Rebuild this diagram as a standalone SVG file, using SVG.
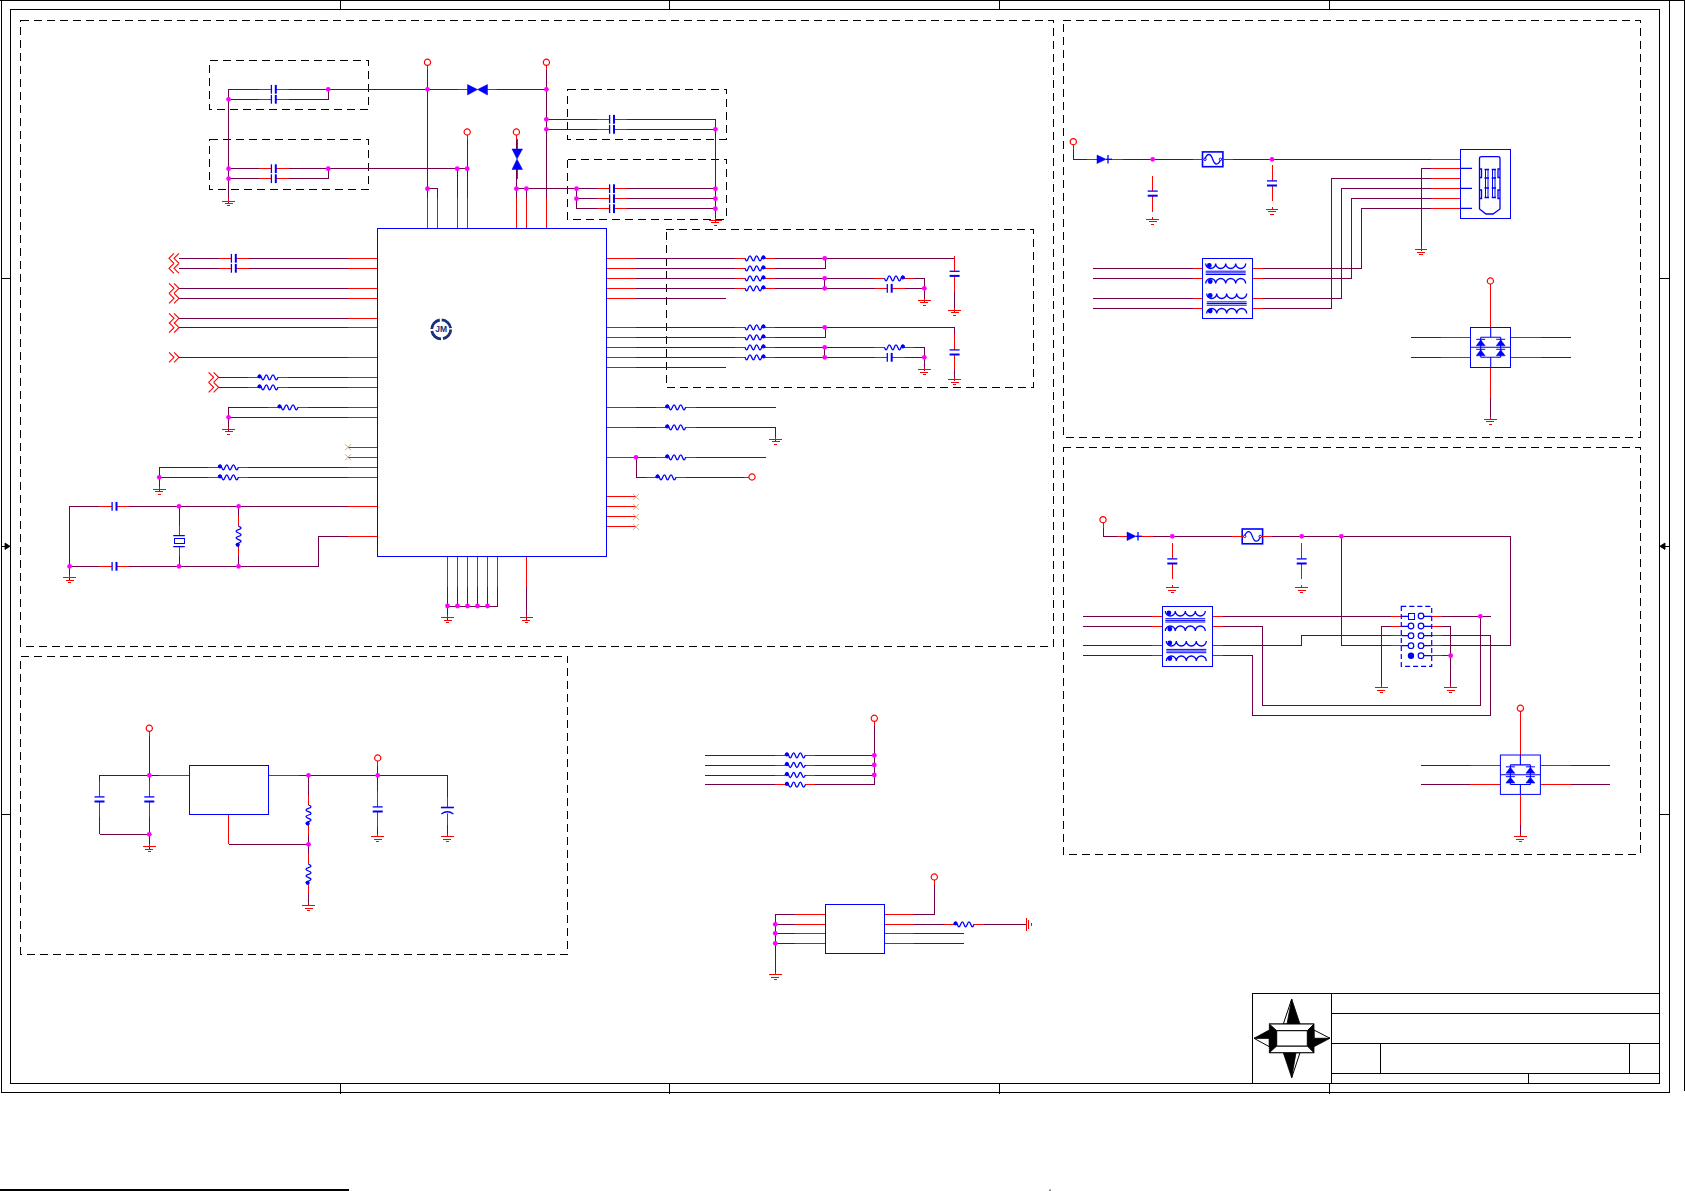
<svg xmlns="http://www.w3.org/2000/svg" xmlns:xlink="http://www.w3.org/1999/xlink" width="1685" height="1191" viewBox="0 0 1685 1191">
<style>
.f{fill:none;stroke:#000;stroke-width:1;shape-rendering:crispEdges}
.d{fill:none;stroke:#000;stroke-width:1;stroke-dasharray:8 5;shape-rendering:crispEdges}
.w{fill:none;stroke:#75004a;stroke-width:1;shape-rendering:crispEdges}
.r{fill:none;stroke:#f00;stroke-width:1;shape-rendering:crispEdges}
.b{fill:none;stroke:#00f;stroke-width:1.3}
.bf{fill:#00f;stroke:#00f;stroke-width:.5}
.box{fill:#fff;stroke:#00f;stroke-width:1;shape-rendering:crispEdges}
.j{fill:#f0f}
.k{fill:#000;stroke:#000;stroke-width:.8}
.o{fill:#fff;stroke:#000;stroke-width:1}
text{font-family:"Liberation Sans",Arial,sans-serif}
</style>
<defs>
<g id="capH"><rect x="-2.5" y="-1.5" width="5" height="3" fill="#fff"/><path class="r" d="M-15 0H-2.5M2.5 0H15"/><path d="M-2.2-4.4V4.4" class="b"/><path d="M2.2-4.4V4.4" class="b" style="stroke-width:2"/></g>
<g id="capV"><rect x="-1.5" y="-2.5" width="3" height="5" fill="#fff"/><path class="r" d="M0-18V-2.5M0 2.5V18"/><path d="M-5-2.4H5" class="b"/><path d="M-5 2.2H5" class="b" style="stroke-width:2"/></g>
<g id="capP"><rect x="-1.5" y="-3" width="3" height="6" fill="#fff"/><path class="r" d="M0-14V-3M0 3V14"/><path d="M-6.5-3H6.5" class="b" style="stroke-width:1.6"/><path d="M-6 3.5Q0-1 6 3.5" class="b"/></g>
<g id="resL"><rect x="-10" y="-1.5" width="20" height="3" fill="#fff"/><path class="r" d="M-20 0H-10M10 0H20"/><path class="b" d="M-10 0Q-8.3-5-6.7 0T-3.3 0T0 0T3.3 0T6.7 0T10 0"/><circle cx="-8.5" cy="-.8" r="2" fill="#00f"/></g>
<use id="resR" xlink:href="#resL" href="#resL" transform="scale(-1,1)"/>
<g id="gnd"><path class="r" d="M0-5V-2.3M-6.4-2.3H6.4M-4 0H4M-1.6 2.3H1.6"/></g>
<g id="vcc"><circle r="3.1" fill="#fff" stroke="#f00" stroke-width="1.2"/><path class="r" d="M0 3.1V8"/></g>
<path id="chevR" fill="none" stroke="#f00" stroke-width="1.1" d="M-10-5L-5 0L-10 5M-5-5L0 0L-5 5"/>
<path id="chevL" fill="none" stroke="#f00" stroke-width="1.1" d="M-5-5L-10 0L-5 5M0-5L-5 0L0 5"/>
<path id="nc" fill="none" stroke="#c9ac88" stroke-width="1" d="M-3-3L3 3M-3 3L3-3"/>
<g id="bowH"><rect x="-10" y="-2" width="20" height="4" fill="#fff"/><path class="r" d="M-20 0H-10M10 0H19"/><path class="bf" d="M-10-5V5.5L0 0ZM10-5V5.5L0 0Z"/></g>
<g id="bowV"><rect x="-2" y="-10" width="4" height="20" fill="#fff"/><path class="r" d="M0-20V-10M0 10V20"/><path class="bf" d="M-5-10H5.5L0 0ZM-5 10.5H5.5L0 0Z"/></g>
<g id="diode"><rect x="-6" y="-2" width="12" height="4" fill="#fff"/><path class="r" d="M-16 0H-6M6 0H20"/><path class="bf" d="M-6-4.3V4.3L3 0Z"/><path class="b" d="M5-4.3V4.3"/><path class="b" d="M3 0H9"/></g>
<g id="fuse"><rect class="box" x="0" y="0" width="20.4" height="14.8" style="stroke-width:1.6;shape-rendering:auto"/><path class="r" d="M-10 7.4H2M18.4 7.4H30"/><path class="b" d="M2 7.4C5 1 8 1 10.2 7.4S15.5 13.8 18.4 7.4"/><circle fill="#fff" stroke="#00f" cx="2.5" cy="7.4" r="1.2"/><circle fill="#fff" stroke="#00f" cx="18" cy="7.4" r="1.2"/></g>
<g id="xfmr"><rect class="box" x="0" y="0" width="50" height="60"/>
<path class="b" d="M3 5a5 5 0 0 0 10 0a5 5 0 0 0 10 0a5 5 0 0 0 10 0a5 5 0 0 0 10 0"/>
<path class="b" d="M3 12.7H43M3 14.4H43M3 16H43" style="stroke-width:1"/>
<path class="b" d="M3 25a5 5 0 0 1 10 0a5 5 0 0 1 10 0a5 5 0 0 1 10 0a5 5 0 0 1 10 0"/>
<path class="b" d="M4 35a5 5 0 0 0 10 0a5 5 0 0 0 10 0a5 5 0 0 0 10 0a5 5 0 0 0 10 0"/>
<path class="b" d="M4 43.4H44M4 45H44M4 46.7H44" style="stroke-width:1"/>
<path class="b" d="M4 55a5 5 0 0 1 10 0a5 5 0 0 1 10 0a5 5 0 0 1 10 0a5 5 0 0 1 10 0"/>
<circle cx="6.6" cy="7" r="2.4" fill="#00f"/><circle cx="7.5" cy="23" r="2.4" fill="#00f"/><circle cx="7.5" cy="37" r="2.4" fill="#00f"/><circle cx="7.5" cy="52.5" r="2.4" fill="#00f"/></g>
<g id="tvs"><rect class="box" x="0" y="0" width="40" height="40"/><path class="b" d="M20 0V10M20 30V40M10 10H30M0 20H40M10 10V30M30 10V30M10 30H30" style="stroke-width:1.1"/>
<path class="bf" d="M5.5 18.5H14.5L10 12.5ZM25.5 18.5H34.5L30 12.5ZM5.5 28.5H14.5L10 22.5ZM25.5 28.5H34.5L30 22.5Z"/>
<path class="b" d="M5.5 12H14.5M25.5 12H34.5M5.5 22H14.5M25.5 22H34.5" style="stroke-width:1"/></g>
<g id="crystal"><rect x="-2" y="-6" width="4" height="12" fill="#fff"/><path class="r" d="M0-15V-5.5M0 5.5V15"/><path class="b" d="M-5.8-5.5H5.8M-5.8 5.5H5.8"/><rect class="box" x="-5" y="-2.5" width="10" height="5"/></g>
</defs>
<rect width="1685" height="1191" fill="#fff"/>

<g id="frame">
<path class="f" d="M1 .5V1092.7H1669.3V.5M0 .5H1685M1684.3 .5V1091"/>
<rect class="f" x="10.4" y="9.8" width="1648.9" height="1073.5"/>
<path class="f" d="M340.4 0V10M669.3 0V10M999.2 0V10M1329.3 0V10M340.4 1083V1094M669.3 1083V1094M999.2 1083V1094M1329.3 1083V1094M1 278H10.4M1 814.3H10.4M1659.3 278H1669.3M1659.3 814.3H1669.3"/>
<path class="f" d="M1 546.3H6M1669.3 546.3H1664"/>
<path class="k" d="M10 546.3L5 543V549.5ZM1659.8 546.3L1665 543V549.5Z"/>
<path fill="none" stroke="#000" stroke-width="2" d="M0 1190H349"/>
<path fill="none" stroke="#000" stroke-width="1" d="M1050 1189.5V1191"/>
</g>

<g id="section-boxes">
<rect class="d" x="20.7" y="20.3" width="1032.6" height="626"/>
<rect class="d" x="20.5" y="656.3" width="547" height="298"/>
<rect class="d" x="1063.3" y="20.3" width="576.9" height="417"/>
<rect class="d" x="1063.3" y="447.3" width="576.9" height="407"/>
<rect class="d" x="209.6" y="60.3" width="158.6" height="49"/>
<rect class="d" x="209.6" y="139.3" width="158.6" height="50"/>
<rect class="d" x="567.6" y="89.3" width="158.9" height="50"/>
<rect class="d" x="567.6" y="159.3" width="158.9" height="60"/>
<rect class="d" x="666.3" y="229.3" width="367.4" height="158"/>
</g>

<g id="connectors">
<path class="w" d="M228.6 203V89.3H546.4M228.6 99.3H328.2V89.3M228.6 168.7H467.2M228.6 178.7H328.2V168.7M427.5 62V228.3M427.5 188.7H437.5V228.3M457.2 168.7V228.3M467.2 132V228.3M516.4 132V228.3M516.4 188.7H715.4M526.4 188.7V228.3M546.4 62V228.3M546.4 119.3H715.4V222M546.4 129.3H715.4M576.5 188.7V208.7H715.4M576.5 198.7H715.4"/>
<path class="w" d="M179 258.3H377.5M179 268.3H377.5M179 288.3H377.5M179 298.3H377.5M179 318.3H377.5M179 327.7H377.5M179 357.3H377.5M218.6 377.3H377.5M218.6 387.3H377.5M228.6 431V407.3H377.5M228.6 417.3H377.5M159.3 491V467.3H377.5M159.3 477.3H377.5M69.6 580V506.3H377.5M69.6 566.3H318.2V536.3H377.5M179 506.3V566.3M238.6 506.3V566.3M447.5 556.3V620M457.5 556.3V606M467.5 556.3V606M477.5 556.3V606M487.5 556.3V606M497.5 556.3V606H447.5M526.4 556.3V620"/>
<path class="w" d="M606.4 258.3H954.6V312M606.4 268.3H825.6V258.3M606.4 278.3H924.3V302M606.4 288.3H924.3M824.7 278.3V288.3M606.4 298.3H726M606.4 327.3H954.6V381M606.4 337.3H825.6V327.3M606.4 347.3H924.3V371M606.4 357.3H924.3M824.7 347.3V357.3M606.4 367.3H726M606.4 407.3H775.7M606.4 427.3H775.7V441M606.4 457.3H765.7M636 457.3V477.3H752"/>
<path class="r" d="M347.5 258.3H377.5M347.5 268.3H377.5M347.5 288.3H377.5M347.5 298.3H377.5M347.5 318.3H377.5M347.5 327.7H377.5M347.5 357.3H377.5M347.5 377.3H377.5M347.5 387.3H377.5M347.5 407.3H377.5M347.5 417.3H377.5M348 447.3H377.5M348 457.3H377.5M347.5 467.3H377.5M347.5 477.3H377.5M347.5 506.3H377.5M347.5 536.3H377.5M606.4 258.3H636.4M606.4 268.3H636.4M606.4 278.3H636.4M606.4 288.3H636.4M606.4 298.3H636.4M606.4 327.3H636.4M606.4 337.3H636.4M606.4 347.3H636.4M606.4 357.3H636.4M606.4 367.3H636.4M606.4 407.3H636.4M606.4 427.3H636.4M606.4 457.3H636.4M606.4 496.3H636M606.4 506.3H636M606.4 516.3H636M606.4 526.3H636M427.5 197.7V228.3M437.5 197.7V228.3M457.2 197.7V228.3M467.2 197.7V228.3M516.4 197.7V228.3M526.4 197.7V228.3M546.4 197.7V228.3M447.5 556.3V587M457.5 556.3V587M467.5 556.3V587M477.5 556.3V587M487.5 556.3V587M497.5 556.3V587M526.4 556.3V587"/>
<path class="w" d="M1073.3 144V159.3H1460.7M1092.7 268.3H1361.3V208.3H1460.7M1092.7 278.3H1351.3V198.3H1460.7M1092.7 298.3H1341.3V188.3H1460.7M1092.7 308.3H1331.3V178.3H1460.7M1421 251V168.3H1460.7M1410.7 337.3H1470.7M1410.7 357.3H1470.7M1510.7 337.3H1570.7M1510.7 357.3H1570.7M1490.4 367.3V418"/>
<path class="r" d="M1430.7 159.3H1460.7M1430.7 168.3H1460.7M1430.7 178.3H1460.7M1430.7 188.3H1460.7M1430.7 198.3H1460.7M1430.7 208.3H1460.7M1192.7 268.3H1202.7M1192.7 278.3H1202.7M1192.7 298.3H1202.7M1192.7 308.3H1202.7M1252.7 268.3H1262.7M1252.7 278.3H1262.7M1252.7 298.3H1262.7M1252.7 308.3H1262.7M1440.7 337.3H1470.7M1440.7 357.3H1470.7M1510.7 337.3H1540.7M1510.7 357.3H1540.7M1490.4 284V327.3M1490.4 367.3V398"/>
<path class="w" d="M1103 522V536.3H1510.3V645.7H1341.3V536.3M1082.7 616.3H1401.3M1082.7 626.3H1262.3V705.3H1480.3V616.3M1082.7 645.3H1301.3V635.7H1401.3M1082.7 655.3H1252.3V715.3H1490.7V635.7H1431.7M1431.7 616.3H1490.7M1401.3 626.3H1381.3V686M1431.7 626.3H1450.7V686M1431.7 655.7H1450.7M1420.7 765.3H1500.3M1420.7 784.3H1500.3M1540.7 765.3H1610M1540.7 784.3H1610M1520.4 794.7V835"/>
<path class="r" d="M1391 616.3H1401.3M1391 626.3H1401.3M1391 635.7H1401.3M1391 645.7H1401.3M1431.7 616.3H1442M1431.7 626.3H1442M1431.7 635.7H1442M1431.7 645.7H1442M1431.7 655.7H1442M1152.3 616.3H1162.3M1152.3 626.3H1162.3M1152.3 645.3H1162.3M1152.3 655.3H1162.3M1212.7 616.3H1222.7M1212.7 626.3H1222.7M1212.7 645.3H1222.7M1212.7 655.3H1222.7M1470.3 765.3H1500.3M1470.3 784.3H1500.3M1540.7 765.3H1570.7M1540.7 784.3H1570.7M1520.4 711.5V755.3M1520.4 794.7V825"/>
<path class="w" d="M149.3 728V849M99.5 834.3V775.3H189.4M99.5 834.3H149.3M268.7 775.3H447.4V835M308.5 775.3V904M377.7 758V835M228.5 844.3H308.5"/>
<path class="r" d="M159 775.3H189.4M268.7 775.3H298.5M228.5 814.3V844.3"/>
<path class="w" d="M705 755.3H874.3M705 765H874.3M705 775H874.3M705 784.7H874.3V718M775.3 972V914.3H825.3M775.3 924.3H825.3M775.3 933.3H825.3M775.3 943.3H825.3M884.3 914.3H934.3V880M884.3 924.3H1026.7M884.3 933.3H964.3M884.3 943.3H964.3"/>
<path class="r" d="M795.3 914.3H825.3M795.3 924.3H825.3M795.3 933.3H825.3M795.3 943.3H825.3M884.3 914.3H914.3M884.3 924.3H914.3M884.3 933.3H914.3M884.3 943.3H914.3"/>
<g class="j" id="junctions">
<circle cx="228.6" cy="99.3" r="2.4"/><circle cx="328.2" cy="89.3" r="2.4"/><circle cx="427.5" cy="89.3" r="2.4"/><circle cx="546.4" cy="89.3" r="2.4"/><circle cx="546.4" cy="119.3" r="2.4"/><circle cx="546.4" cy="129.3" r="2.4"/><circle cx="228.6" cy="168.7" r="2.4"/><circle cx="228.6" cy="178.7" r="2.4"/><circle cx="328.2" cy="168.7" r="2.4"/><circle cx="457.2" cy="168.7" r="2.4"/><circle cx="467.2" cy="168.7" r="2.4"/><circle cx="427.5" cy="188.7" r="2.4"/><circle cx="516.4" cy="188.7" r="2.4"/><circle cx="526.4" cy="188.7" r="2.4"/><circle cx="576.5" cy="188.7" r="2.4"/><circle cx="576.5" cy="198.7" r="2.4"/><circle cx="715.4" cy="129.3" r="2.4"/><circle cx="715.4" cy="188.7" r="2.4"/><circle cx="715.4" cy="198.7" r="2.4"/><circle cx="715.4" cy="208.7" r="2.4"/>
<circle cx="228.6" cy="417.3" r="2.4"/><circle cx="159.3" cy="477.3" r="2.4"/><circle cx="179" cy="506.3" r="2.4"/><circle cx="238.6" cy="506.3" r="2.4"/><circle cx="69.6" cy="566.3" r="2.4"/><circle cx="179" cy="566.3" r="2.4"/><circle cx="238.6" cy="566.3" r="2.4"/><circle cx="447.5" cy="606" r="2.4"/><circle cx="457.5" cy="606" r="2.4"/><circle cx="467.5" cy="606" r="2.4"/><circle cx="477.5" cy="606" r="2.4"/><circle cx="487.5" cy="606" r="2.4"/>
<circle cx="824.7" cy="258.3" r="2.4"/><circle cx="824.7" cy="278.3" r="2.4"/><circle cx="824.7" cy="288.3" r="2.4"/><circle cx="924.3" cy="288.3" r="2.4"/><circle cx="824.7" cy="327.3" r="2.4"/><circle cx="824.7" cy="347.3" r="2.4"/><circle cx="824.7" cy="357.3" r="2.4"/><circle cx="924.3" cy="357.3" r="2.4"/><circle cx="636" cy="457.3" r="2.4"/>
<circle cx="1152.7" cy="159.3" r="2.4"/><circle cx="1272" cy="159.3" r="2.4"/><circle cx="1172.3" cy="536.3" r="2.4"/><circle cx="1301.7" cy="536.3" r="2.4"/><circle cx="1341.3" cy="536.3" r="2.4"/><circle cx="1480.3" cy="616.3" r="2.4"/><circle cx="1450.7" cy="655.7" r="2.4"/>
<circle cx="149.3" cy="775.3" r="2.4"/><circle cx="149.3" cy="834.3" r="2.4"/><circle cx="308.5" cy="775.3" r="2.4"/><circle cx="377.7" cy="775.3" r="2.4"/><circle cx="308.5" cy="844.3" r="2.4"/>
<circle cx="874.3" cy="755.3" r="2.4"/><circle cx="874.3" cy="765" r="2.4"/><circle cx="874.3" cy="775" r="2.4"/><circle cx="775.3" cy="924.3" r="2.4"/><circle cx="775.3" cy="933.3" r="2.4"/><circle cx="775.3" cy="943.3" r="2.4"/>
</g>
</g>

<g id="U1"><rect class="box" x="377.5" y="228.3" width="228.9" height="328" style="fill:none"/>
<g id="U1-logo"><circle cx="441.2" cy="329.4" r="9.5" fill="#fff" stroke="#1a2f7a" stroke-width="2.8" stroke-dasharray="13 2"/><text x="441.2" y="332.4" font-size="8.5" font-weight="700" fill="#1a2f7a" text-anchor="middle">JM</text></g></g>

<g id="C1"><use href="#capH" transform="translate(273.6,89.3)"/></g>
<g id="C2"><use href="#capH" transform="translate(273.6,99.3)"/></g>
<g id="C3"><use href="#capH" transform="translate(273.6,168.7)"/></g>
<g id="C4"><use href="#capH" transform="translate(273.6,178.7)"/></g>
<g id="C5"><use href="#capH" transform="translate(611.8,119.3)"/></g>
<g id="C6"><use href="#capH" transform="translate(611.8,129.3)"/></g>
<g id="C7"><use href="#capH" transform="translate(611.8,188.7)"/></g>
<g id="C8"><use href="#capH" transform="translate(611.8,198.7)"/></g>
<g id="C9"><use href="#capH" transform="translate(611.8,208.7)"/></g>
<g id="C10"><use href="#capH" transform="translate(233.6,258.3)"/></g>
<g id="C11"><use href="#capH" transform="translate(233.6,268.3)"/></g>
<g id="C12"><use href="#capH" transform="translate(114.3,506.3)"/></g>
<g id="C13"><use href="#capH" transform="translate(114.3,566.3)"/></g>
<g id="C14"><use href="#capH" transform="translate(889.5,288.3)"/></g>
<g id="C15"><use href="#capH" transform="translate(889.5,357.3)"/></g>
<g id="C16"><use href="#capV" transform="translate(954.6,273.7)"/></g>
<g id="C17"><use href="#capV" transform="translate(954.6,352.3)"/></g>
<g id="C18"><use href="#capV" transform="translate(1152.7,193.5)"/></g>
<g id="C19"><use href="#capV" transform="translate(1272,183.3)"/></g>
<g id="C20"><use href="#capV" transform="translate(1172.3,561.3)"/></g>
<g id="C21"><use href="#capV" transform="translate(1301.7,561.3)"/></g>
<g id="C22"><use href="#capV" transform="translate(99.5,799.3)"/></g>
<g id="C23"><use href="#capV" transform="translate(149.3,799.3)"/></g>
<g id="C24"><use href="#capV" transform="translate(377.7,809.3)"/></g>
<g id="C25"><use href="#capP" transform="translate(447.4,810.5)"/></g>

<g id="R1"><use href="#resL" transform="translate(268,377.3)"/></g>
<g id="R2"><use href="#resL" transform="translate(268,387.3)"/></g>
<g id="R3"><use href="#resL" transform="translate(288,407.3)"/></g>
<g id="R4"><use href="#resL" transform="translate(228.4,467.3)"/></g>
<g id="R5"><use href="#resL" transform="translate(228.4,477.3)"/></g>
<g id="R6"><use href="#resL" transform="translate(238.6,536.3) rotate(-90)"/></g>
<g id="R7"><use href="#resR" transform="translate(755,258.3)"/></g>
<g id="R8"><use href="#resR" transform="translate(755,268.3)"/></g>
<g id="R9"><use href="#resR" transform="translate(755,278.3)"/></g>
<g id="R10"><use href="#resR" transform="translate(755,288.3)"/></g>
<g id="R11"><use href="#resR" transform="translate(894.4,278.3)"/></g>
<g id="R12"><use href="#resR" transform="translate(755,327.3)"/></g>
<g id="R13"><use href="#resR" transform="translate(755,337.3)"/></g>
<g id="R14"><use href="#resR" transform="translate(755,347.3)"/></g>
<g id="R15"><use href="#resR" transform="translate(755,357.3)"/></g>
<g id="R16"><use href="#resR" transform="translate(894.4,347.3)"/></g>
<g id="R17"><use href="#resL" transform="translate(675.7,407.3)"/></g>
<g id="R18"><use href="#resL" transform="translate(675.7,427.3)"/></g>
<g id="R19"><use href="#resL" transform="translate(675.7,457.3)"/></g>
<g id="R20"><use href="#resL" transform="translate(666,477.3)"/></g>
<g id="R21"><use href="#resL" transform="translate(308.5,815) rotate(-90)"/></g>
<g id="R22"><use href="#resL" transform="translate(308.5,874.3) rotate(-90)"/></g>
<g id="R23"><use href="#resL" transform="translate(795.3,755.3)"/></g>
<g id="R24"><use href="#resL" transform="translate(795.3,765)"/></g>
<g id="R25"><use href="#resL" transform="translate(795.3,775)"/></g>
<g id="R26"><use href="#resL" transform="translate(795.3,784.7)"/></g>
<g id="R27"><use href="#resL" transform="translate(964,924.3)"/></g>

<g id="D1"><use href="#bowH" transform="translate(477.5,89.5)"/></g>
<g id="D2"><use href="#bowV" transform="translate(517,159)"/></g>
<g id="D3"><use href="#diode" transform="translate(1103,159.3)"/></g>
<g id="D4"><use href="#diode" transform="translate(1133,536.3)"/></g>
<g id="F1"><use href="#fuse" transform="translate(1202.5,151.9)"/></g>
<g id="F2"><use href="#fuse" transform="translate(1242.2,529)"/></g>
<g id="Y1"><use href="#crystal" transform="translate(179,541.2)"/></g>
<g id="T1"><use href="#xfmr" transform="translate(1202.7,258.5)"/></g>
<g id="T2"><use href="#xfmr" transform="translate(1162.3,606)"/></g>
<g id="TVS1"><use href="#tvs" transform="translate(1470.7,327.3)"/></g>
<g id="TVS2"><use href="#tvs" transform="translate(1500.4,755) scale(1,.985)"/></g>

<g id="J1"><rect class="box" x="1460.7" y="149.3" width="50" height="69"/>
<path class="b" d="M1460.7 168.3H1472M1460.7 188.3H1472M1460.7 208.3H1472"/>
<path class="b" d="M1479.5 158.5Q1479.5 156.7 1481.5 156.7H1498Q1500 156.7 1500 158.5V209L1493 214H1486L1479.5 209Z"/>
<path class="b" d="M1479.5 169H1481.5V177.5H1479.5M1479.5 190H1481.5V198.5H1479.5M1500 169H1498V177.5H1500M1500 190H1498V198.5H1500"/>
<path class="b" d="M1484.5 169.5H1489M1484.5 178H1489M1484.5 188H1489M1484.5 197.5H1489M1491.7 169.5H1496M1491.7 178H1496M1491.7 188H1496M1491.7 197.5H1496"/>
<path class="b" style="stroke-width:1" d="M1485.5 169.5V197.5M1488 169.5V197.5M1492.5 169.5V197.5M1495 169.5V197.5"/></g>

<g id="J2"><rect x="1401.3" y="606.3" width="30.4" height="60" fill="#fff" stroke="#00f" stroke-width="1.2" stroke-dasharray="5 3"/>
<path class="b" d="M1401.3 616.3H1408M1401.3 626.3H1408M1401.3 635.7H1408M1401.3 645.7H1408M1424 616.3H1431.7M1424 626.3H1431.7M1424 635.7H1431.7M1424 645.7H1431.7M1424 655.7H1431.7"/>
<rect class="box" x="1408" y="613.2" width="6" height="6"/>
<circle fill="#fff" stroke="#00f" stroke-width="1.2" cx="1411" cy="626" r="2.8"/><circle fill="#fff" stroke="#00f" stroke-width="1.2" cx="1411" cy="635.7" r="2.8"/><circle fill="#fff" stroke="#00f" stroke-width="1.2" cx="1411" cy="645.7" r="2.8"/><circle cx="1411" cy="655.7" r="3.2" fill="#00f"/>
<circle fill="#fff" stroke="#00f" stroke-width="1.2" cx="1421" cy="616" r="2.8"/><circle fill="#fff" stroke="#00f" stroke-width="1.2" cx="1421" cy="626" r="2.8"/><circle fill="#fff" stroke="#00f" stroke-width="1.2" cx="1421" cy="635.7" r="2.8"/><circle fill="#fff" stroke="#00f" stroke-width="1.2" cx="1421" cy="645.7" r="2.8"/><circle fill="#fff" stroke="#00f" stroke-width="1.2" cx="1421" cy="655.7" r="2.8"/></g>

<g id="U2"><rect class="box" x="189.4" y="765.3" width="79.3" height="49"/></g>
<g id="U3"><rect class="box" x="825.3" y="904.3" width="59" height="49"/></g>

<g id="terminals">
<use href="#chevL" transform="translate(179,258.3)"/><use href="#chevL" transform="translate(179,268.3)"/>
<use href="#chevR" transform="translate(179,288.3)"/><use href="#chevR" transform="translate(179,298.3)"/>
<use href="#chevR" transform="translate(179,318.3)"/><use href="#chevR" transform="translate(179,327.7)"/>
<use href="#chevR" transform="translate(179,357.3)"/>
<use href="#chevR" transform="translate(218.6,377.3)"/><use href="#chevR" transform="translate(218.6,387.3)"/>
<use href="#nc" transform="translate(348,447.3)"/><use href="#nc" transform="translate(348,457.3)"/>
<use href="#nc" transform="translate(636,496.8)"/><use href="#nc" transform="translate(636,506.8)"/><use href="#nc" transform="translate(636,516.8)"/><use href="#nc" transform="translate(636,526.8)"/>
</g>

<g id="power-ports">
<use href="#vcc" transform="translate(427.5,62.3)"/><use href="#vcc" transform="translate(546.4,62.3)"/><use href="#vcc" transform="translate(467.2,132)"/><use href="#vcc" transform="translate(516.4,132)"/>
<use href="#vcc" transform="translate(752,477) rotate(90)"/>
<use href="#vcc" transform="translate(1073.3,141.7)"/><use href="#vcc" transform="translate(1490.4,281)"/><use href="#vcc" transform="translate(1103,519.7)"/><use href="#vcc" transform="translate(1520.4,708.3)"/>
<use href="#vcc" transform="translate(149.3,728.3)"/><use href="#vcc" transform="translate(377.7,758)"/><use href="#vcc" transform="translate(874.3,718.3)"/><use href="#vcc" transform="translate(934.3,877)"/>
</g>

<g id="grounds">
<use href="#gnd" transform="translate(228.6,203.3)"/><use href="#gnd" transform="translate(715.4,222.7)"/><use href="#gnd" transform="translate(228.6,431.7)"/><use href="#gnd" transform="translate(159.3,491.7)"/><use href="#gnd" transform="translate(69.6,580)"/><use href="#gnd" transform="translate(447.5,620)"/><use href="#gnd" transform="translate(526.4,620)"/>
<use href="#gnd" transform="translate(924.3,302.7)"/><use href="#gnd" transform="translate(954.6,312.7)"/><use href="#gnd" transform="translate(924.3,372)"/><use href="#gnd" transform="translate(954.6,382)"/><use href="#gnd" transform="translate(775.7,441.7)"/>
<use href="#gnd" transform="translate(1152.7,221.7)"/><use href="#gnd" transform="translate(1272,211.7)"/><use href="#gnd" transform="translate(1421,252)"/><use href="#gnd" transform="translate(1490.4,421.7)"/>
<use href="#gnd" transform="translate(1172.3,590)"/><use href="#gnd" transform="translate(1301.7,590)"/><use href="#gnd" transform="translate(1381.3,690)"/><use href="#gnd" transform="translate(1450.7,690)"/><use href="#gnd" transform="translate(1520.4,839.3)"/>
<use href="#gnd" transform="translate(149.3,849)"/><use href="#gnd" transform="translate(377.7,839)"/><use href="#gnd" transform="translate(447.4,839)"/><use href="#gnd" transform="translate(308.5,908.3)"/><use href="#gnd" transform="translate(775.3,977)"/>
<path class="r" id="chassis" d="M1026.7 918V930.5M1028.9 920V928.5M1031 922.5V926"/>
</g>

<g id="title-block">
<rect class="f" x="1252.3" y="993.3" width="407" height="90"/>
<path class="f" d="M1331.3 993.3V1083.3M1331.3 1013.3H1659.3M1331.3 1043.3H1659.3M1331.3 1073.3H1659.3M1380.3 1043.3V1073.3M1629.3 1043.3V1073.3M1528.3 1073.3V1083.3"/>
<g id="compass">
<path class="o" d="M1291.7 999L1283.3 1024H1291.7Z"/><path class="k" d="M1291.7 999L1300 1024H1287Z"/>
<path class="o" d="M1291.7 1077.7L1300 1052.7H1291.7Z"/><path class="k" d="M1291.7 1077.7L1283.3 1052.7H1296Z"/>
<path class="k" d="M1254 1038.3L1269.3 1030V1038.3Z"/><path class="o" d="M1254 1038.3L1269.3 1046.7V1038.3Z"/>
<path class="k" d="M1330 1038.3L1314 1046.7V1038.3Z"/><path class="o" d="M1330 1038.3L1314 1030V1038.3Z"/>
<rect class="k" x="1269.3" y="1024" width="44.7" height="28.7"/>
<path class="o" d="M1269.3 1024H1314L1307.3 1030.7H1276.7ZM1269.3 1052.7H1314L1307.3 1046H1276.7Z"/>
<rect class="o" x="1276.7" y="1030.7" width="30.6" height="15.3"/>
</g>
</g>
</svg>
